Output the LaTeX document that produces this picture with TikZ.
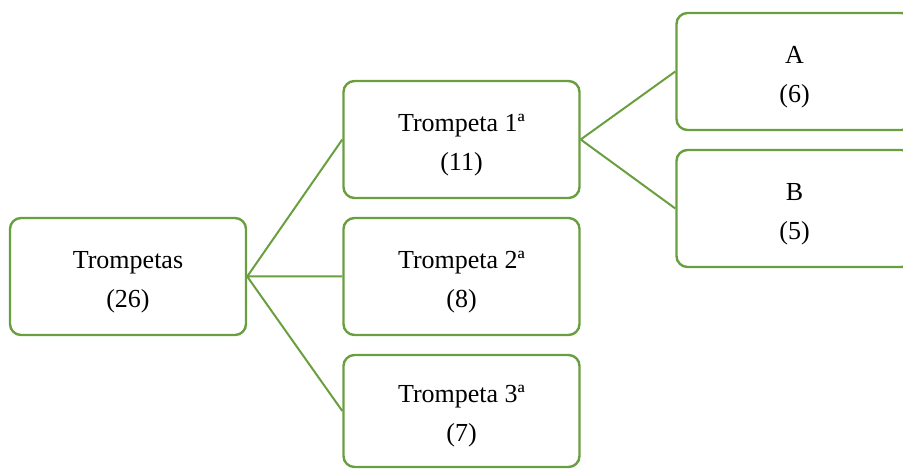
\documentclass[tikz,border=0pt]{standalone}
\usepackage{fontspec}
\setmainfont{Liberation Serif}
\definecolor{verde}{RGB}{106,159,64}
\newcommand\rotulo[2]{\rule{0pt}{28pt}#1\\#2}
\tikzset{
	caja/.style={draw=verde, line width=2.4pt, rounded corners=11pt, minimum width=236pt, minimum height=117pt, align=center, inner sep=0pt, font=\fontsize{26}{39}\selectfont},
	enlace/.style={draw=verde, line width=2pt}
}

\begin{document}
\begin{tikzpicture}[x=1pt,y=-1pt]
	\clip (0,0) rectangle (903,470);
	\node[caja] (trompetas) at (128,276.5) {\rotulo{Trompetas}{(26)}};
	\node[caja] (t1) at (461.5,139.5) {\rotulo{Trompeta 1ª}{(11)}};
	\node[caja] (t2) at (461.5,276.5) {\rotulo{Trompeta 2ª}{(8)}};
	\node[caja, minimum height=112pt] (t3) at (461.5,411) {\rotulo{Trompeta 3ª}{(7)}};
	\node[caja] (a) at (794.5,71.5) {\rotulo{A}{(6)}};
	\node[caja] (b) at (794.5,208.5) {\rotulo{B}{(5)}};
%	ramas
	\draw[enlace] (trompetas.east) -- (t1.west) (trompetas.east) -- (t2.west) (trompetas.east) -- (t3.west);
	\draw[enlace] (t1.east) -- (a.west) (t1.east) -- (b.west);
\end{tikzpicture}
\end{document}
